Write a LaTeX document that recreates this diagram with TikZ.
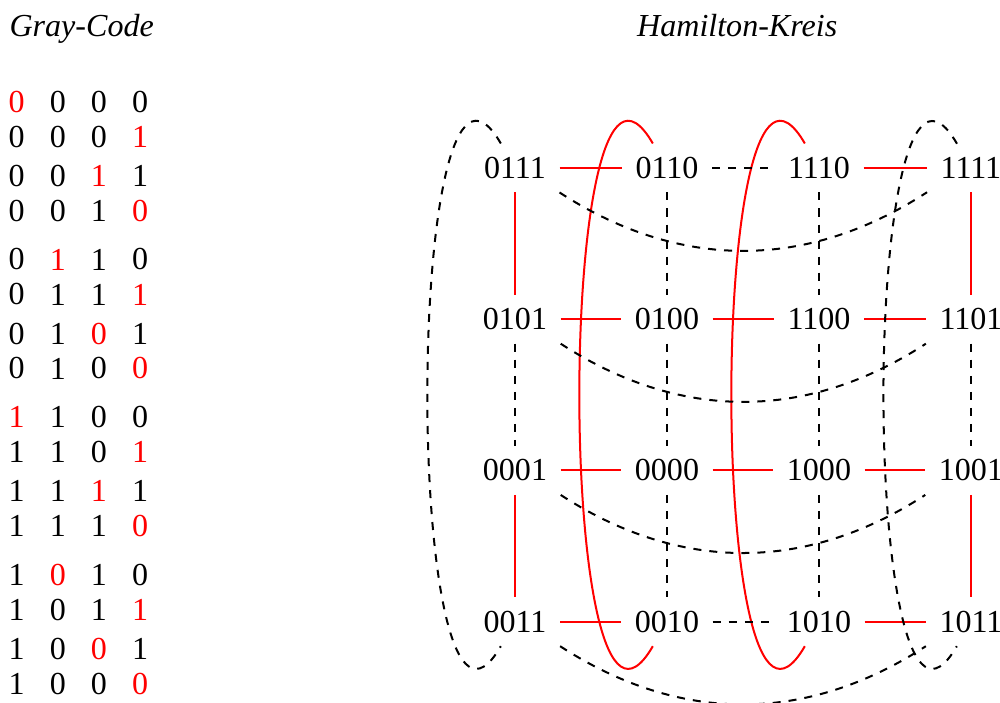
\documentclass[tikz,border=0pt]{standalone}
\usepackage{fontspec}
\setmainfont{Liberation Serif}
\usepackage{xcolor}
\usepackage{tikz}
\usetikzlibrary{positioning}
\tikzset{
  vertex/.style={inner sep=0.18cm,outer sep=0pt,font=\fontsize{12}{14}\selectfont},
  digit/.style={inner sep=0pt,font=\fontsize{12}{14}\selectfont},
  heading/.style={anchor=base,font=\fontsize{12}{14}\selectfont\itshape},
  cycle/.style={red,line width=0.75pt},
  other/.style={black,dashed,line width=0.75pt}
}
\begin{document}
\begin{tikzpicture}
  \useasboundingbox (0,0) rectangle (13.158,-9.237);
  % Headings
  \node[heading] (gray) at (1.075,-0.483) {Gray-Code};
  \node[heading] (hamilton) at (9.70,-0.483) {Hamilton-Kreis};
  % Gray code table, changed bit in red
  \foreach \a/\b/\c/\d/\hi [count=\i from 0] in {
    0/0/0/0/1, 0/0/0/1/4, 0/0/1/1/3, 0/0/1/0/4,
    0/1/1/0/2, 0/1/1/1/4, 0/1/0/1/3, 0/1/0/0/4,
    1/1/0/0/1, 1/1/0/1/4, 1/1/1/1/3, 1/1/1/0/4,
    1/0/1/0/2, 1/0/1/1/4, 1/0/0/1/3, 1/0/0/0/4%
  }{
    \pgfmathsetmacro{\gy}{-1.338-2.076*floor(\i/4)-0.974*floor(mod(\i,4)/2)-0.46*mod(\i,2)}
    \foreach \bit [count=\k] in {\a,\b,\c,\d}{
      \ifnum\k=\hi \def\bitcol{red}\else\def\bitcol{black}\fi
      \node[digit,text=\bitcol] (g\i-\k) at ({0.22+0.541*(\k-1)},\gy) {\bit};
    }
  }
  % Torus grid
  \foreach \lbl/\cx/\ry in {
    0111/0/0, 0110/1/0, 1110/2/0, 1111/3/0,
    0101/0/1, 0100/1/1, 1100/2/1, 1101/3/1,
    0001/0/2, 0000/1/2, 1000/2/2, 1001/3/2,
    0011/0/3, 0010/1/3, 1010/2/3, 1011/3/3%
  }{
    \node[vertex] (n\lbl) at ({6.776+2*\cx},{-2.21-1.99*\ry}) {\lbl};
  }
  % Hamilton cycle
  \foreach \u/\v in {0111/0110, 1110/1111, 0101/0100, 0100/1100, 1100/1101,
    0001/0000, 0000/1000, 1000/1001, 0011/0010, 1010/1011,
    0111/0101, 0001/0011, 1111/1101, 1001/1011}{
    \draw[cycle] (n\u) -- (n\v);
  }
  \draw[cycle] (n0110.120) to[out=120,in=240] (n0010.240);
  \draw[cycle] (n1110.120) to[out=120,in=240] (n1010.240);
  % Remaining edges
  \foreach \u/\v in {0110/1110, 0010/1010, 0101/0001, 1101/1001,
    0110/0100, 0100/0000, 0000/0010, 1110/1100, 1100/1000, 1000/1010}{
    \draw[other] (n\u) -- (n\v);
  }
  \draw[other] (n0111.120) to[out=120,in=240] (n0011.240);
  \draw[other] (n1111.120) to[out=120,in=240] (n1011.240);
  \foreach \u/\v in {0111/1111, 0101/1101, 0001/1001, 0011/1011}{
    \draw[other] (n\u.south east) to[bend right=33] (n\v.south west);
  }
\end{tikzpicture}
\end{document}
